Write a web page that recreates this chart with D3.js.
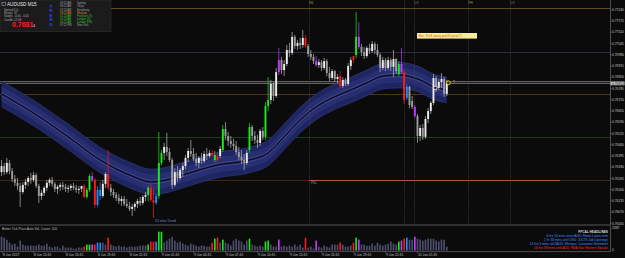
<!DOCTYPE html>
<html>
<head>
<meta charset="utf-8">
<script src="https://cdn.jsdelivr.net/npm/d3@7"></script>
<style>
html, body { margin: 0; padding: 0; background: #0b0b0b; overflow: hidden; }
svg { display: block; font-family: "Liberation Sans", Arial, sans-serif; }
</style>
</head>
<body>
<svg id="chart" width="625" height="258"></svg>
<script>
// ── Data (AUDUSD M15) ───────────────────────────────────────────────────────
// [open, high, low, close]
const candles = [
  [0.76301,0.76371,0.76278,0.76336],[0.76336,0.76354,0.76284,0.76301],[0.76301,0.76383,0.76290,0.76354],[0.76354,0.76371,0.76290,0.76307],
  [0.76307,0.76325,0.76244,0.76261],[0.76261,0.76284,0.76221,0.76239],[0.76239,0.76267,0.76198,0.76221],[0.76221,0.76239,0.76100,0.76186],
  [0.76186,0.76244,0.76175,0.76227],[0.76227,0.76261,0.76204,0.76244],[0.76244,0.76278,0.76221,0.76267],[0.76267,0.76296,0.76233,0.76256],
  [0.76256,0.76301,0.76244,0.76284],[0.76284,0.76296,0.76210,0.76221],[0.76221,0.76233,0.76123,0.76163],[0.76163,0.76198,0.76140,0.76181],
  [0.76181,0.76221,0.76163,0.76210],[0.76210,0.76256,0.76192,0.76239],[0.76239,0.76267,0.76221,0.76256],[0.76256,0.76273,0.76216,0.76233],
  [0.76233,0.76244,0.76186,0.76204],[0.76204,0.76227,0.76175,0.76216],[0.76216,0.76239,0.76192,0.76227],[0.76227,0.76244,0.76198,0.76216],
  [0.76216,0.76233,0.76186,0.76204],[0.76204,0.76227,0.76181,0.76210],[0.76210,0.76233,0.76192,0.76221],[0.76221,0.76239,0.76198,0.76210],
  [0.76210,0.76227,0.76181,0.76198],[0.76198,0.76221,0.76175,0.76204],[0.76204,0.76221,0.76186,0.76221],[0.76221,0.76233,0.76152,0.76158],
  [0.76158,0.76210,0.76146,0.76198],[0.76198,0.76290,0.76186,0.76278],[0.76278,0.76301,0.76244,0.76256],[0.76256,0.76267,0.76094,0.76111],
  [0.76111,0.76221,0.76100,0.76198],[0.76198,0.76244,0.76140,0.76163],[0.76163,0.76256,0.76152,0.76233],[0.76233,0.76301,0.76210,0.76290],
  [0.76290,0.76429,0.76198,0.76210],[0.76210,0.76233,0.76163,0.76186],[0.76186,0.76204,0.76152,0.76169],[0.76169,0.76186,0.76134,0.76152],
  [0.76152,0.76175,0.76117,0.76134],[0.76134,0.76163,0.76105,0.76146],[0.76146,0.76163,0.76105,0.76117],[0.76117,0.76146,0.76094,0.76105],
  [0.76105,0.76128,0.76076,0.76088],[0.76088,0.76117,0.76047,0.76100],[0.76100,0.76128,0.76076,0.76117],[0.76117,0.76146,0.76094,0.76134],
  [0.76134,0.76158,0.76105,0.76123],[0.76123,0.76169,0.76111,0.76158],[0.76158,0.76186,0.76134,0.76169],[0.76169,0.76221,0.76134,0.76210],
  [0.76210,0.76233,0.76128,0.76140],[0.76140,0.76204,0.76036,0.76123],[0.76123,0.76175,0.76111,0.76163],[0.76163,0.76533,0.76146,0.76354],
  [0.76354,0.76429,0.76342,0.76412],[0.76412,0.76470,0.76371,0.76447],[0.76447,0.76528,0.76394,0.76417],[0.76417,0.76441,0.76359,0.76371],
  [0.76371,0.76383,0.76204,0.76227],[0.76227,0.76325,0.76216,0.76301],[0.76301,0.76336,0.76244,0.76267],[0.76267,0.76325,0.76256,0.76313],
  [0.76313,0.76354,0.76273,0.76336],[0.76336,0.76400,0.76319,0.76383],[0.76383,0.76441,0.76359,0.76423],[0.76423,0.76487,0.76389,0.76406],
  [0.76406,0.76441,0.76365,0.76377],[0.76377,0.76412,0.76336,0.76354],[0.76354,0.76394,0.76325,0.76383],[0.76383,0.76412,0.76348,0.76365],
  [0.76365,0.76423,0.76354,0.76406],[0.76406,0.76441,0.76371,0.76394],[0.76394,0.76429,0.76383,0.76412],[0.76412,0.76429,0.76389,0.76400],
  [0.76400,0.76423,0.76359,0.76371],[0.76371,0.76412,0.76359,0.76394],[0.76394,0.76452,0.76383,0.76435],[0.76429,0.76573,0.76417,0.76550],
  [0.76550,0.76590,0.76487,0.76510],[0.76510,0.76533,0.76452,0.76481],[0.76481,0.76510,0.76441,0.76464],[0.76464,0.76493,0.76429,0.76452],
  [0.76452,0.76481,0.76400,0.76417],[0.76417,0.76447,0.76371,0.76389],[0.76389,0.76429,0.76348,0.76371],[0.76371,0.76406,0.76313,0.76354],
  [0.76354,0.76429,0.76342,0.76412],[0.76429,0.76585,0.76412,0.76562],[0.76562,0.76573,0.76481,0.76510],[0.76510,0.76539,0.76464,0.76487],
  [0.76487,0.76516,0.76441,0.76470],[0.76470,0.76550,0.76452,0.76539],[0.76539,0.76562,0.76487,0.76505],[0.76505,0.76706,0.76487,0.76683],
  [0.76683,0.76851,0.76654,0.76718],[0.76718,0.76834,0.76695,0.76811],[0.76811,0.76822,0.76712,0.76741],[0.76741,0.76903,0.76730,0.76879],
  [0.76879,0.77019,0.76862,0.76949],[0.76949,0.76967,0.76868,0.76891],[0.76891,0.76949,0.76856,0.76926],[0.76926,0.77036,0.76914,0.77007],
  [0.77007,0.77048,0.76967,0.76990],[0.76990,0.77111,0.76978,0.77083],[0.77083,0.77094,0.77013,0.77030],[0.77030,0.77065,0.77007,0.77048],
  [0.77048,0.77077,0.77013,0.77036],[0.77036,0.77123,0.77019,0.77077],[0.77077,0.77094,0.77019,0.77030],[0.77030,0.77042,0.76967,0.76984],
  [0.76984,0.77007,0.76949,0.76967],[0.76967,0.76984,0.76926,0.76943],[0.76943,0.76972,0.76909,0.76920],[0.76920,0.76955,0.76903,0.76937],
  [0.76937,0.76949,0.76885,0.76903],[0.76903,0.76961,0.76891,0.76943],[0.76943,0.76955,0.76856,0.76874],[0.76874,0.76909,0.76828,0.76845],
  [0.76845,0.76897,0.76834,0.76885],[0.76885,0.76891,0.76822,0.76839],[0.76839,0.76868,0.76811,0.76851],[0.76856,0.76885,0.76788,0.76799],
  [0.76799,0.76851,0.76788,0.76834],[0.76834,0.76845,0.76799,0.76811],[0.76811,0.76932,0.76799,0.76914],[0.76914,0.76967,0.76891,0.76949],
  [0.76949,0.76967,0.76932,0.76972],[0.76978,0.77226,0.76961,0.77083],[0.77083,0.77168,0.77013,0.77025],[0.77025,0.77042,0.76972,0.76995],
  [0.76995,0.77025,0.76955,0.76972],[0.76972,0.77030,0.76961,0.77019],[0.77019,0.77042,0.76984,0.77001],[0.77001,0.77059,0.76990,0.77042],
  [0.77042,0.77053,0.76984,0.77007],[0.77007,0.77042,0.76967,0.76978],[0.76978,0.76990,0.76879,0.76903],[0.76903,0.76967,0.76891,0.76949],
  [0.76949,0.76961,0.76885,0.76903],[0.76903,0.76967,0.76891,0.76949],[0.76949,0.76961,0.76885,0.76909],[0.76909,0.77007,0.76851,0.76955],
  [0.76955,0.76961,0.76868,0.76885],[0.76868,0.76943,0.76856,0.76926],[0.76926,0.77019,0.76868,0.76879],[0.76879,0.76891,0.76695,0.76718],
  [0.76730,0.76811,0.76718,0.76794],[0.76794,0.76799,0.76672,0.76689],[0.76712,0.76741,0.76666,0.76678],[0.76678,0.76689,0.76614,0.76625],
  [0.76625,0.76637,0.76470,0.76510],[0.76510,0.76573,0.76481,0.76556],[0.76556,0.76579,0.76487,0.76505],[0.76505,0.76625,0.76493,0.76608],
  [0.76608,0.76672,0.76585,0.76654],[0.76654,0.76712,0.76637,0.76701],[0.76701,0.76868,0.76689,0.76845],[0.76845,0.76856,0.76764,0.76788],
  [0.76788,0.76839,0.76776,0.76822],[0.76822,0.76874,0.76788,0.76839],[0.76839,0.76851,0.76736,0.76753],[0.76753,0.76834,0.76741,0.76814]
];

const volumes = [
  1470,1370,1150,840,640,730,420,1050,630,530,520,540,510,530,640,520,540,730,430,320,
  420,430,220,520,320,310,330,210,230,320,330,430,640,630,650,640,850,840,830,620,
  1370,640,520,420,530,420,440,320,430,420,410,430,520,540,530,640,950,940,960,2000,
  1990,850,1050,1260,1470,1060,840,950,740,630,530,740,630,520,430,530,520,420,430,840,
  1260,1370,840,1160,850,730,530,1050,1260,1060,950,630,1050,1260,640,520,430,530,420,950,
  1060,630,430,420,1160,430,520,420,530,420,640,430,630,320,1370,320,430,220,1050,430,
  320,530,420,330,630,640,620,850,630,420,430,530,840,1370,1160,640,630,520,530,740,
  520,840,630,530,640,730,950,740,630,950,1050,1260,1370,1160,1150,1470,1260,1160,1050,1160,
  1260,1270,1250,1050,950,1160,1150,420
];

// Better-volume bar classes (bar index)
const redBars     = [31, 35, 40, 56, 57, 79, 81, 114, 127, 132, 151];
const greenBars   = [32, 33, 55, 59, 60, 80, 83, 93, 99, 100, 133, 149];
const blueBars    = [36, 37, 58, 152];
const magentaBars = [34, 104, 118, 134, 150, 155];

// 55 ema trend band centre (bar index, price)
const emaBand = [
  [0,0.76753],[12,0.76643],[25,0.76505],[37,0.76371],[49,0.76278],[56,0.76244],[62,0.76256],
  [68,0.76284],[81,0.76342],[93,0.76371],[100,0.76412],[106,0.76505],[112,0.76602],[118,0.76678],
  [124,0.76730],[131,0.76776],[137,0.76817],[143,0.76856],[149,0.76862],[157,0.76834],[162,0.76794],[167,0.76776]
];
const bandWidths = [0.00074, 0.00040, 0.00010];

const priceTicks = [0.77240,0.77175,0.77110,0.77045,0.76980,0.76915,0.76850,0.76785,0.76720,0.76655,
                    0.76590,0.76525,0.76460,0.76395,0.76330,0.76265,0.76200,0.76135,0.76070,0.76005];
const bidPrice = 0.76814;
const askPrice = 0.76824;

const levelPrices = [0.77248, 0.76997, 0.76750, 0.76503, 0.76256];
const levelColors = ["#7d5a1c", "#34345e", "#5c4018", "#1d4a1d", "#4a2c1c"];
const pdlPrice = 0.76256;

const vLineBars = [115.3, 151, 154.8, 174.8, 190.6];
const vLineTags = ["R4", "", "LO", "PH", "LO"];

const timeTickBars = [0, 12, 24, 36, 48, 60, 72, 84, 96, 108, 120, 132, 144, 156];
const timeTickLabels = ["8 Jun 2017","8 Jun 13:45","8 Jun 16:45","8 Jun 19:45","8 Jun 22:45","9 Jun 01:45",
  "9 Jun 04:45","9 Jun 07:45","9 Jun 10:45","9 Jun 13:45","9 Jun 16:45","9 Jun 19:45","9 Jun 22:45","10 Jun 01:45"];

const headlines = [
  "0 hrs 10 mins since AUD: Home Loans m/m",
  "1 hr 38 mins until USD: JOLTS Job Openings",
  "14 hrs 9 mins until AUD: Westpac Consumer Sentiment",
  "16 hrs 38 mins until AUD: RBA Gov Stevens Speaks"
];

const sessionTimes = ["09:22 AM","08:22 AM","07:22 AM","03:22 AM","01:22 AM","01:22 AM","00:22 AM","07:22 PM"];
const sessionNames = ["Sydney","Tokyo","Hongkong","Moscow","Frankfurt (3)","London (2)","London (UK)","New York"];
const infoRows = [["Spread", "1.0"], ["Range", "37"], ["Swaps", "-0.40, -0.45"], ["Candle", "12:46"]];

// ── Scales ──────────────────────────────────────────────────────────────────
const plotRight = 610;
const mainBottom = 224.5;
const x = d3.scaleLinear().domain([0, 167]).range([1.5, 446.8]);
const y = d3.scaleLinear().domain([0.76005, 0.77240]).range([223.3, 9.7]);
const v = d3.scaleLinear().domain([0, 2387]).range([250.6, 228]);

const svg = d3.select("#chart");
svg.append("rect").attr("width", 625).attr("height", 258).attr("fill", "#0b0b0b");

const defs = svg.append("defs");
defs.append("clipPath").attr("id", "mainClip")
  .append("rect").attr("x", 0).attr("y", 0).attr("width", plotRight).attr("height", mainBottom);

const main = svg.append("g").attr("clip-path", "url(#mainClip)");

function barColor(i) {
  if (redBars.includes(i)) return "#ff1a1a";
  if (greenBars.includes(i)) return "#1ee81e";
  if (blueBars.includes(i)) return "#1e90ff";
  if (magentaBars.includes(i)) return "#c040ff";
  return null;
}

// ── Horizontal levels ───────────────────────────────────────────────────────
levelPrices.forEach((p, k) => {
  main.append("line").attr("x1", 0).attr("x2", plotRight)
    .attr("y1", Math.round(y(p)) + 0.5).attr("y2", Math.round(y(p)) + 0.5)
    .attr("stroke", levelColors[k]).attr("stroke-width", 0.8);
});
main.append("line").attr("x1", x(115.3)).attr("x2", 560)
  .attr("y1", Math.round(y(pdlPrice)) + 0.5).attr("y2", Math.round(y(pdlPrice)) + 0.5)
  .attr("stroke", "#c8584a").attr("stroke-width", 0.9);
main.append("text").attr("x", x(115.3) + 2).attr("y", y(pdlPrice) + 4)
  .attr("font-size", 3.2).attr("fill", "#9a9a9a").text("PDL");

[askPrice, bidPrice].forEach(p => {
  main.append("line").attr("x1", 0).attr("x2", plotRight)
    .attr("y1", y(p)).attr("y2", y(p))
    .attr("stroke", "#9a9a9a").attr("stroke-width", 0.7);
});

// ── EMA band ────────────────────────────────────────────────────────────────
const bandArea = w => d3.area().curve(d3.curveMonotoneX)
  .x(d => x(d[0])).y0(d => y(d[1] - w)).y1(d => y(d[1] + w));
const bandLine = off => d3.line().curve(d3.curveMonotoneX)
  .x(d => x(d[0])).y(d => y(d[1] + off));

main.append("path").datum(emaBand).attr("d", bandArea(bandWidths[0])).attr("fill", "#1f255e");
main.append("path").datum(emaBand).attr("d", bandArea(bandWidths[1])).attr("fill", "#272e72");
[bandWidths[0], -bandWidths[0]].forEach(off => {
  main.append("path").datum(emaBand).attr("d", bandLine(off))
    .attr("fill", "none").attr("stroke", "#323c8e").attr("stroke-width", 0.6);
});
[bandWidths[1], -bandWidths[1]].forEach(off => {
  main.append("path").datum(emaBand).attr("d", bandLine(off))
    .attr("fill", "none").attr("stroke", "#313a88").attr("stroke-width", 0.5);
});
[bandWidths[2], -bandWidths[2]].forEach(off => {
  main.append("path").datum(emaBand).attr("d", bandLine(off))
    .attr("fill", "none").attr("stroke", "#5a6090").attr("stroke-width", 0.5);
});
main.append("path").datum(emaBand).attr("d", bandLine(0))
  .attr("fill", "none").attr("stroke", "#000000").attr("stroke-width", 0.9);

main.append("text").attr("x", 155).attr("y", 222).attr("font-size", 3.4)
  .attr("fill", "#7584d8").text("55 ema Trend");

// ── Vertical dotted lines ──────────────────────────────────────────────────
vLineBars.forEach((b, k) => {
  const xx = Math.round(x(b)) + 0.5;
  main.append("line").attr("x1", xx).attr("x2", xx).attr("y1", 0).attr("y2", mainBottom)
    .attr("stroke", "#4a4a4a").attr("stroke-width", 0.7).attr("stroke-dasharray", "1,1.2");
  if (vLineTags[k]) {
    main.append("text").attr("x", xx).attr("y", 4).attr("font-size", 3)
      .attr("fill", "#a89a60").text(vLineTags[k]);
  }
});

// ── Candles ─────────────────────────────────────────────────────────────────
const cg = main.append("g");
candles.forEach((c, i) => {
  const [o, h, l, cl] = c;
  const xx = x(i);
  const col = barColor(i);
  const bull = cl > o;
  const body = col || (bull ? "#ececec" : "#9c9c9c");
  cg.append("line").attr("x1", xx).attr("x2", xx).attr("y1", y(h)).attr("y2", y(l))
    .attr("stroke", col || "#b8b8b8").attr("stroke-width", 0.7);
  const top = y(Math.max(o, cl)), bot = y(Math.min(o, cl));
  cg.append("rect").attr("x", xx - 0.95).attr("width", 1.9)
    .attr("y", top).attr("height", Math.max(0.6, bot - top)).attr("fill", body);
});

// ── Trade markers ──────────────────────────────────────────────────────────
main.append("line").attr("x1", x(162.7)).attr("y1", y(0.76788)).attr("x2", x(167.6)).attr("y2", y(0.76817))
  .attr("stroke", "#9a9a9a").attr("stroke-width", 0.5).attr("stroke-dasharray", "0.8,0.8");
main.append("circle").attr("cx", x(162.7)).attr("cy", y(0.76788)).attr("r", 1.8)
  .attr("fill", "#202020").attr("stroke", "#f0f0f0").attr("stroke-width", 0.9);
main.append("circle").attr("cx", x(167.6)).attr("cy", y(0.76817)).attr("r", 1.9)
  .attr("fill", "#202020").attr("stroke", "#f5e100").attr("stroke-width", 1);
main.append("rect").attr("x", x(169.5)).attr("y", y(0.76817) - 0.6).attr("width", 1.4).attr("height", 1.2)
  .attr("fill", "#ff2020");
main.append("rect").attr("x", x(169.5)).attr("y", y(0.76817) - 2.8).attr("width", 1.2).attr("height", 1.2)
  .attr("fill", "#9a9a9a");

// Yellow note box
main.append("rect").attr("x", 417).attr("y", 33).attr("width", 60).attr("height", 5.6).attr("fill", "#f4ec9a");
main.append("text").attr("x", 418.5).attr("y", 37.2).attr("font-size", 3.4).attr("fill", "#e0501c")
  .text("Bar: 3:03 away pro3.0 proC7");

// ── Right price axis ───────────────────────────────────────────────────────
svg.append("line").attr("x1", plotRight + 0.5).attr("x2", plotRight + 0.5).attr("y1", 0).attr("y2", 252)
  .attr("stroke", "#6a6a6a").attr("stroke-width", 0.7);
priceTicks.forEach(p => {
  svg.append("line").attr("x1", plotRight).attr("x2", plotRight + 1.5).attr("y1", y(p)).attr("y2", y(p))
    .attr("stroke", "#8a8a8a").attr("stroke-width", 0.5);
  svg.append("text").attr("x", plotRight + 2).attr("y", y(p) + 1.2).attr("font-size", 3.3)
    .attr("fill", "#c8c8c8").text(d3.format(".5f")(p));
});
svg.append("rect").attr("x", plotRight + 0.5).attr("y", y(bidPrice) - 1.9).attr("width", 14).attr("height", 3.8)
  .attr("fill", "#c4c4c4");
svg.append("text").attr("x", plotRight + 2).attr("y", y(bidPrice) + 1.2).attr("font-size", 3.3)
  .attr("fill", "#101010").text(d3.format(".5f")(bidPrice));

// ── Volume panel ────────────────────────────────────────────────────────────
svg.append("line").attr("x1", 0).attr("x2", plotRight).attr("y1", 225).attr("y2", 225)
  .attr("stroke", "#6a6a6a").attr("stroke-width", 0.8);
svg.append("line").attr("x1", 0).attr("x2", plotRight).attr("y1", 251.6).attr("y2", 251.6)
  .attr("stroke", "#6a6a6a").attr("stroke-width", 0.7);
svg.append("text").attr("x", 2).attr("y", 229.5).attr("font-size", 3.3).attr("fill", "#bdbdbd")
  .text("Better Tick Price   Auto Vol,  Count: 100");

volumes.forEach((vol, i) => {
  svg.append("rect").attr("x", x(i) - 0.8).attr("width", 1.6)
    .attr("y", v(vol)).attr("height", v(0) - v(vol))
    .attr("fill", barColor(i) || "#4f4f70");
});
svg.append("text").attr("x", plotRight + 2).attr("y", 229).attr("font-size", 3.3).attr("fill", "#c8c8c8").text("2387");
svg.append("text").attr("x", plotRight + 2).attr("y", 251).attr("font-size", 3.3).attr("fill", "#c8c8c8").text("0");

// Headlines
const hl = svg.append("g").attr("text-anchor", "end").attr("font-size", 3.2);
hl.append("text").attr("x", 608).attr("y", 233).attr("fill", "#d8d8d8").attr("font-weight", "bold").text("FFCAL HEADLINES");
headlines.forEach((t, k) => {
  hl.append("text").attr("x", 608).attr("y", 237.3 + k * 4)
    .attr("fill", k === headlines.length - 1 ? "#ff2a2a" : "#3f8cff").text(t);
});

// ── Time axis ───────────────────────────────────────────────────────────────
timeTickBars.forEach((b, k) => {
  const xx = Math.round(x(b)) + 0.5;
  svg.append("line").attr("x1", xx).attr("x2", xx).attr("y1", 251.6).attr("y2", 253)
    .attr("stroke", "#8a8a8a").attr("stroke-width", 0.5);
  svg.append("text").attr("x", xx + 0.5).attr("y", 256.3).attr("font-size", 3.3)
    .attr("fill", "#c0c0c0").text(timeTickLabels[k]);
});

// ── Info panel ─────────────────────────────────────────────────────────────
const panel = svg.append("g");
panel.append("rect").attr("x", 0).attr("y", 0).attr("width", 111).attr("height", 31.5)
  .attr("fill", "#1b1b1b").attr("stroke", "#333").attr("stroke-width", 0.6);
panel.append("rect").attr("x", 2).attr("y", 2.6).attr("width", 3.5).attr("height", 3)
  .attr("fill", "none").attr("stroke", "#bbb").attr("stroke-width", 0.5);
panel.append("text").attr("x", 7).attr("y", 6.2).attr("font-size", 4.6).attr("fill", "#e8e8e8")
  .text("AUDUSD  M15");
infoRows.forEach((r, k) => {
  panel.append("text").attr("x", 4).attr("y", 10.5 + k * 3.4).attr("font-size", 2.9).attr("fill", "#a8a8a8").text(r[0]);
  panel.append("text").attr("x", 14).attr("y", 10.5 + k * 3.4).attr("font-size", 2.9).attr("fill", "#a8a8a8").text(r[1]);
});
panel.append("text").attr("x", 12).attr("y", 27.3).attr("font-size", 7).attr("font-weight", "bold")
  .attr("fill", "#ff1e1e").text("0.7681");
panel.append("text").attr("x", 33).attr("y", 27.3).attr("font-size", 4).attr("fill", "#dcdcdc").text("4");
"TREND".split("").forEach((ch, k) => {
  panel.append("text").attr("x", 51).attr("y", 8 + k * 4.4).attr("font-size", 4.2).attr("font-weight", "bold")
    .attr("text-anchor", "middle").attr("fill", "#2a4cff").text(ch);
});
sessionTimes.forEach((t, k) => {
  const col = k === 3 ? "#e0902a" : (k >= 4 && k <= 6 ? "#39c239" : "#a0a0a0");
  panel.append("text").attr("x", 60).attr("y", 4.4 + k * 3.05).attr("font-size", 2.7).attr("fill", col).text(t);
  panel.append("text").attr("x", 77).attr("y", 4.4 + k * 3.05).attr("font-size", 2.7).attr("fill", col).text(sessionNames[k]);
});
</script>
</body>
</html>
